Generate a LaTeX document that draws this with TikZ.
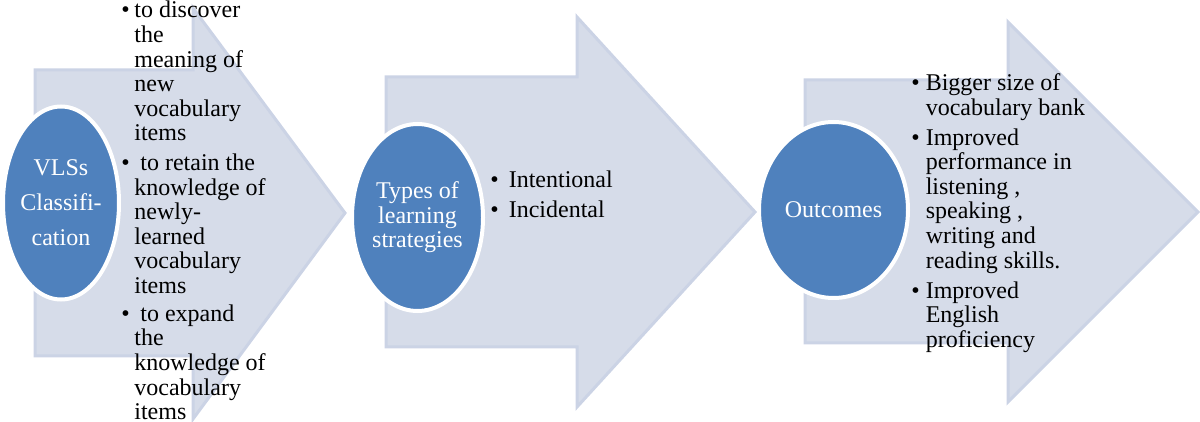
\documentclass[tikz,border=0pt]{standalone}
\usepackage{fontspec}
\setmainfont{Liberation Serif}
\usetikzlibrary{shapes.geometric}
\definecolor{arrowfill}{RGB}{214,220,233}
\definecolor{arrowrim}{RGB}{203,211,229}
\definecolor{stageblue}{RGB}{79,129,189}
\begin{document}
\begin{tikzpicture}[
    x=0.5pt,
    y=-0.5pt,
    flowarrow/.style={draw=arrowrim, line width=1.5pt, fill=arrowfill},
    stage/.style={ellipse, draw=white, line width=2pt, fill=stageblue,
      text=white, align=center, inner sep=0pt,
      font=\fontsize{12}{12.3}\selectfont},
    points/.style={anchor=base west, inner sep=0pt,
      font=\fontsize{12}{12.3}\selectfont}
  ]
    \useasboundingbox (0,0) rectangle (1200,422);
    % the three big arrows
    \draw[flowarrow] (35,70) -- (193,70) -- (193,8) -- (345,213)
      -- (193,419) -- (193,356) -- (35,356) -- cycle;
    \draw[flowarrow] (386,77) -- (577,77) -- (577,17) -- (755,212)
      -- (577,407) -- (577,347) -- (386,347) -- cycle;
    \draw[flowarrow] (805,80) -- (1008,80) -- (1008,22) -- (1198,212)
      -- (1008,402) -- (1008,343) -- (805,343) -- cycle;
    % stages
    \node[stage, minimum width=58pt, minimum height=96.5pt,
      font=\fontsize{12}{17.5}\selectfont] (vls) at (61,203)
      {VLSs\\Classifi-\\cation};
    \node[stage, minimum width=65.5pt, minimum height=93.5pt] (types) at (417.5,217.5)
      {Types of\\learning\\strategies};
    \node[stage, minimum width=74.5pt, minimum height=88pt] (outcomes) at (833.5,210)
      {Outcomes};
    % bullet lists
    \node[points] (aims) at (121,18) {%
      \begin{tabular}[t]{@{}l@{\hspace{2.3pt}}l@{}}
        \textbullet & to discover\\
        & the\\
        & meaning of\\
        & new\\
        & vocabulary\\
        & items\\[2.5pt]
        \textbullet & \ to retain the\\
        & knowledge of\\
        & newly-\\
        & learned\\
        & vocabulary\\
        & items\\[1.6pt]
        \textbullet & \ to expand\\
        & the\\
        & knowledge of\\
        & vocabulary\\
        & items
      \end{tabular}};
    \node[points] (kinds) at (490,188) {%
      \begin{tabular}[t]{@{}l@{\hspace{5pt}}l@{}}
        \textbullet & Intentional\\[2.7pt]
        \textbullet & Incidental
      \end{tabular}};
    \node[points] (gains) at (911,91) {%
      \begin{tabular}[t]{@{}l@{\hspace{3pt}}l@{}}
        \textbullet & Bigger size of\\
        & vocabulary bank\\[2.5pt]
        \textbullet & Improved\\
        & performance in\\
        & listening ,\\
        & speaking ,\\
        & writing and\\
        & reading skills.\\[2.7pt]
        \textbullet & Improved\\
        & English\\
        & proficiency
      \end{tabular}};
  \end{tikzpicture}
\end{document}
